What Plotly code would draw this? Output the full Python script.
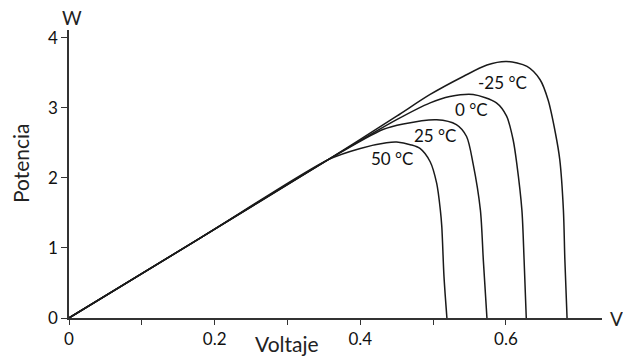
import plotly.graph_objects as go

# Data (Voltage in V, Power in W)
labels = ["-25 °C", "0 °C", "25 °C", "50 °C"]

v_m25 = [0, 0.18, 0.356, 0.45, 0.496, 0.542, 0.574, 0.601, 0.629, 0.647, 0.658, 0.668, 0.674, 0.679, 0.681, 0.684]
p_m25 = [0, 1.14, 2.26, 2.88, 3.19, 3.45, 3.61, 3.66, 3.59, 3.40, 3.11, 2.64, 2.26, 1.54, 0.83, 0]

v_0 = [0, 0.18, 0.356, 0.45, 0.496, 0.523, 0.555, 0.587, 0.601, 0.61, 0.615, 0.622, 0.625, 0.628]
p_0 = [0, 1.14, 2.26, 2.83, 3.07, 3.16, 3.19, 3.07, 2.88, 2.54, 2.20, 1.54, 0.83, 0]

v_25 = [0, 0.18, 0.356, 0.431, 0.459, 0.505, 0.532, 0.546, 0.555, 0.565, 0.569, 0.574]
p_25 = [0, 1.14, 2.26, 2.69, 2.77, 2.83, 2.76, 2.59, 2.20, 1.54, 0.83, 0]

v_50 = [0, 0.18, 0.356, 0.40, 0.436, 0.45, 0.47, 0.482, 0.496, 0.505, 0.51, 0.512, 0.515, 0.519]
p_50 = [0, 1.14, 2.26, 2.42, 2.50, 2.51, 2.47, 2.42, 2.23, 1.92, 1.54, 1.30, 0.59, 0]

label_v = [0.596, 0.553, 0.503, 0.443]
label_p = [3.36, 2.97, 2.61, 2.28]

x_ticks = [0, 0.1, 0.2, 0.3, 0.4, 0.5, 0.6]
x_ticktext = ["0", "", "0.2", "", "0.4", "", "0.6"]
y_ticks = [0, 1, 2, 3, 4]

FONT = "Lato, Open Sans, sans-serif"

fig = go.Figure()
for v, p in [(v_m25, p_m25), (v_0, p_0), (v_25, p_25), (v_50, p_50)]:
    fig.add_trace(go.Scatter(x=v, y=p, mode="lines",
                             line=dict(color="#1a1a1a", width=1.5, shape="spline", smoothing=0.8),
                             showlegend=False, hoverinfo="skip"))

for t, x, y in zip(labels, label_v, label_p):
    fig.add_annotation(x=x, y=y, text=t, showarrow=False, xanchor="center", yanchor="middle",
                       font=dict(family=FONT, size=17, color="#111"))

def paper_text(x, y, text, size, angle=0):
    fig.add_annotation(xref="paper", yref="paper", x=x, y=y, text=text, textangle=angle,
                       showarrow=False, xanchor="center", yanchor="middle",
                       font=dict(family=FONT, size=size, color="#222"))

paper_text(0.409, -0.088, "Voltaje", 21)
paper_text(-0.092, 0.538, "Potencia", 21, -90)
paper_text(0.006, 1.045, "W", 19)
paper_text(1.028, 0.0, "V", 19)

fig.update_layout(
    width=623, height=358,
    margin=dict(l=69, r=21, t=30, b=40),
    paper_bgcolor="white", plot_bgcolor="white",
    font=dict(family=FONT, size=17, color="#111"),
    xaxis=dict(range=[0, 0.732], tickvals=x_ticks, ticktext=x_ticktext,
               showgrid=False, zeroline=False, showline=True, linecolor="#333", linewidth=1.5,
               ticks="outside", ticklen=5, tickcolor="#333", tickwidth=1.2, automargin=False),
    yaxis=dict(range=[0, 4.11], tickvals=y_ticks,
               showgrid=False, zeroline=False, showline=True, linecolor="#333", linewidth=1.5,
               ticks="outside", ticklen=6, tickcolor="#333", tickwidth=1.2, automargin=False),
)

fig.write_html("out.html", config={"displayModeBar": False},
               post_script="document.body.style.margin='0';document.body.style.overflow='hidden';")
